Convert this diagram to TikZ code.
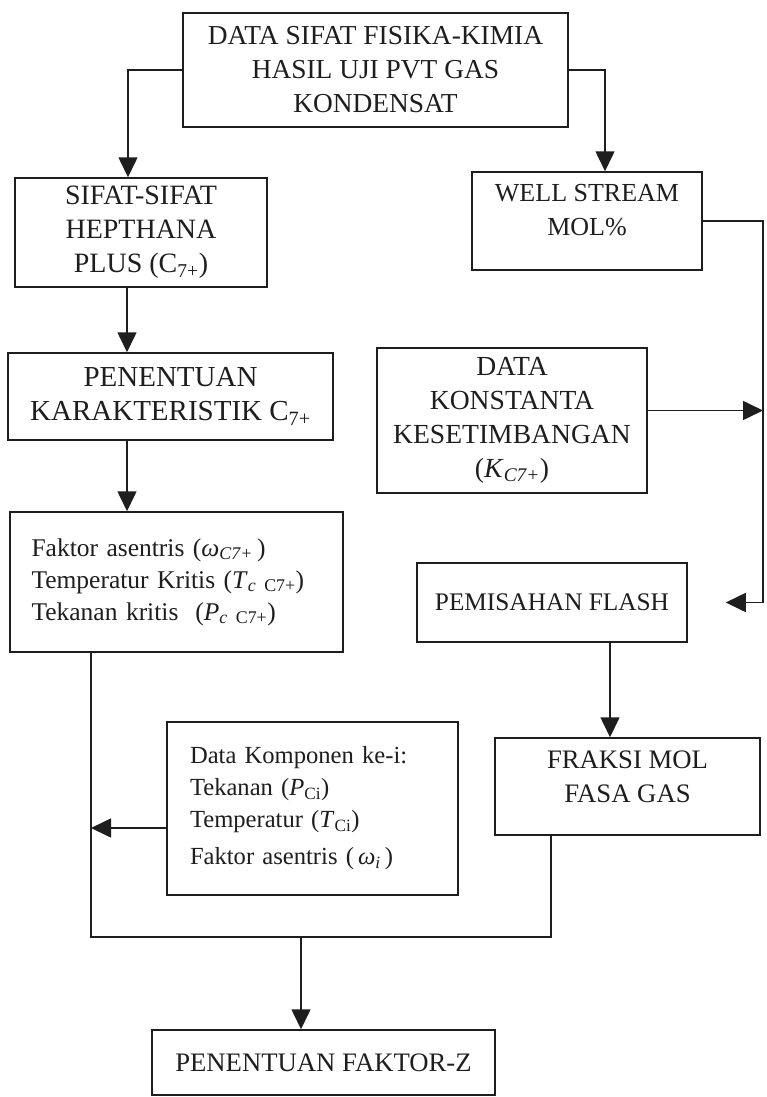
\documentclass[tikz,border=0pt]{standalone}
\usepackage{fontspec}
\setmainfont{Liberation Serif}
\usepackage{tikz}
\usetikzlibrary{arrows.meta,positioning,calc}
\definecolor{tinta}{RGB}{30,30,30}

\begin{document}
\begin{tikzpicture}[x=1pt,y=-1pt,>={Triangle[length=20pt,width=19pt]},
  kotak/.style={draw=tinta,line width=1.5pt,inner sep=0pt,align=center,text=tinta,
    font=\fontsize{#1}{34}\selectfont},
  kotak/.default=27,
  daftar/.style={kotak,align=left,font=\fontsize{#1}{32}\selectfont},
  daftar/.default=25.5,
  panah/.style={->,draw=tinta,line width=1.6pt},
  garis/.style={draw=tinta,line width=1.6pt}]

\fill[white] (0,0) rectangle (766,1097);
\useasboundingbox (0,0) rectangle (766,1097);
\clip (0,0) rectangle (766,1097);

% kotak-kotak
\node[kotak=27.4,minimum width=385pt,minimum height=114pt] (data) at (375.5,70)
  {DATA SIFAT FISIKA-KIMIA\\HASIL UJI PVT GAS\\KONDENSAT};
\node[kotak=28,minimum width=252pt,minimum height=109pt] (heptana) at (141,232.5)
  {SIFAT-SIFAT\\HEPTHANA\\PLUS (C\textsubscript{7+})};
\node[kotak=26,minimum width=230pt,minimum height=98pt] (well) at (587,221)
  {WELL STREAM\\MOL\%\\[-12pt]\mbox{}};
\node[kotak=29,minimum width=325pt,minimum height=87pt] (karakter) at (170.5,396.5)
  {PENENTUAN\\KARAKTERISTIK C\textsubscript{7+}};
\node[kotak=27.6,minimum width=270pt,minimum height=145pt] (konstanta) at (512,420.5)
  {DATA\\KONSTANTA\\KESETIMBANGAN\\(\textit{K}\textsubscript{\textit{C7+}})};
\node[daftar,minimum width=333pt,minimum height=140pt,text width=290pt,inner xsep=21.5pt] (kritis) at (176.5,582)
  {Faktor asentris (\textit{ω}\textsubscript{\textit{C7+}}\,)\\
   Temperatur Kritis (\textit{T}\textsubscript{\textit{c} C7+})\\
   Tekanan kritis\ \ (\textit{P}\textsubscript{\textit{c} C7+})};
\node[kotak=25.3,minimum width=270pt,minimum height=79pt] (flash) at (552,602.5)
  {PEMISAHAN FLASH};
\node[kotak=26.7,minimum width=265pt,minimum height=97pt] (fraksi) at (627.5,786.5)
  {FRAKSI MOL\\FASA GAS\\[-14pt]\mbox{}};
\node[daftar=24.6,minimum width=291pt,minimum height=173pt,text width=245pt,inner xsep=23pt] (komponen) at (312.5,808.5)
  {Data Komponen ke-i:\\
   Tekanan (\textit{P}\textsubscript{Ci})\\
   Temperatur (\textit{T}\textsubscript{Ci})\\[5pt]
   Faktor asentris (\,\textit{ω}\textsubscript{\textit{i}}\,)};
\node[kotak=26.7,minimum width=343pt,minimum height=65pt] (faktorz) at (323.5,1062.5)
  {PENENTUAN FAKTOR-Z};

% titik bantu
\coordinate (sumbu) at (127,0);
\coordinate (sumbu2) at (610,0);
\coordinate (kanan) at (763,218);
\coordinate (masukK) at ([yshift=10pt]konstanta.east);
\coordinate (keluarD) at ([yshift=-19.5pt]komponen.west);
\coordinate (kumpulkiri) at (91,937);
\coordinate (kumpulkanan) at (551,937);
\coordinate (turun) at (301,937);

% panah
\draw[panah] (data.west) -| ([xshift=-13pt]heptana.north);
\draw[panah] (data.east) -| ([xshift=18pt]well.north);
\draw[panah] (sumbu |- heptana.south) -- (sumbu |- karakter.north);
\draw[panah] (sumbu |- karakter.south) -- (sumbu |- kritis.north);
\draw[panah] (well.east) -- (kanan |- well.east) |- ([xshift=38pt]flash.east);
\draw[panah] (masukK) -- (kanan |- masukK);
\draw[panah] (sumbu2 |- flash.south) -- (sumbu2 |- fraksi.north);
\draw[garis] (kumpulkiri |- kritis.south) -- (kumpulkiri) -- (kumpulkanan) -- (kumpulkanan |- fraksi.south);
\draw[panah] (keluarD) -- (kumpulkiri |- keluarD);
\draw[panah] (turun) -- (turun |- faktorz.north);
\end{tikzpicture}
\end{document}
